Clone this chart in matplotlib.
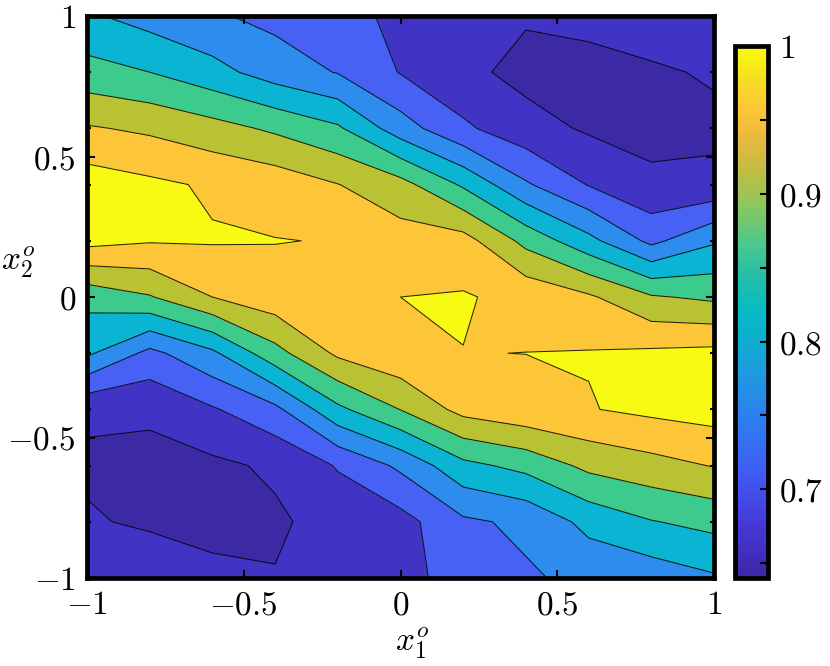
import matplotlib
matplotlib.use("Agg")
import matplotlib.pyplot as plt
import numpy as np
from matplotlib.colors import LinearSegmentedColormap, Normalize
from matplotlib.colorbar import ColorbarBase
from matplotlib.ticker import FixedLocator

plt.rcParams['mathtext.fontset'] = 'cm'
plt.rcParams['font.family'] = 'DejaVu Serif'

# grid of the surface (x1 across, x2 down from +1 to -1)
x1_grid = [-1.0, -0.8, -0.6, -0.4, -0.2, 0.0, 0.2, 0.4, 0.6, 0.8, 1.0]
x2_grid = [1.0, 0.8, 0.6, 0.4, 0.2, 0.0, -0.2, -0.4, -0.6, -0.8, -1.0]

# values, one row per x2 value (top row is x2 = 1)
z_rows = [
    [0.806, 0.784, 0.765, 0.749, 0.735, 0.710, 0.700, 0.684, 0.697, 0.700, 0.695],
    [0.855, 0.840, 0.814, 0.781, 0.758, 0.718, 0.690, 0.668, 0.660, 0.675, 0.684],
    [0.924, 0.913, 0.895, 0.873, 0.846, 0.7785, 0.727, 0.695, 0.675, 0.668, 0.672],
    [0.981, 0.968, 0.955, 0.944, 0.921, 0.8945, 0.834, 0.765, 0.718, 0.688, 0.689],
    [0.973, 0.963, 0.963, 0.961, 0.9586, 0.937, 0.936, 0.868, 0.812, 0.750, 0.795],
    [0.853, 0.877, 0.920, 0.945, 0.950, 0.960, 0.963, 0.950, 0.926, 0.884, 0.872],
    [0.807, 0.749, 0.792, 0.866, 0.9275, 0.951, 0.9595, 0.9602, 0.962, 0.967, 0.9714],
    [0.686, 0.687, 0.716, 0.750, 0.831, 0.881, 0.9335, 0.950, 0.958, 0.969, 0.977],
    [0.674, 0.668, 0.672, 0.686, 0.723, 0.768, 0.829, 0.852, 0.890, 0.906, 0.922],
    [0.684, 0.674, 0.665, 0.674, 0.695, 0.705, 0.753, 0.768, 0.812, 0.838, 0.852],
    [0.690, 0.708, 0.692, 0.682, 0.705, 0.712, 0.730, 0.755, 0.770, 0.777, 0.795],
]

levels = [0.64, 0.68, 0.72, 0.76, 0.80, 0.84, 0.88, 0.92, 0.96, 1.00]
band_colors = ['#3B2AA3', '#4133C3', '#4761F5', '#2D8CEE', '#0AB4D2',
               '#3DCA8D', '#B9C233', '#FCC638', '#F8FA13']

# parula-like gradient for the colorbar
cbar_colors = ['#3E26A8', '#4638D8', '#3F5DF5', '#2D7FF0', '#1F99E0', '#0DAED0',
               '#07B9C4', '#25C0A8', '#4DC88C', '#8CC75D', '#C4BC42', '#EBB93F',
               '#FCC537', '#F5DE24', '#F9FB0E']
cbar_pos = [0.0, 0.1, 0.2, 0.3, 0.38, 0.45, 0.5, 0.57, 0.63, 0.7, 0.77, 0.83,
            0.88, 0.94, 1.0]

xticks = [-1, -0.5, 0, 0.5, 1]
xticklabels = ['$-1$', '$-0.5$', '$0$', '$0.5$', '$1$']
yminor = [-0.8, -0.6, -0.4, -0.2, 0.2, 0.4, 0.6, 0.8]
cticks = [0.7, 0.8, 0.9, 1.0]
cticklabels = ['$0.7$', '$0.8$', '$0.9$', '$1$']
cminor = [0.65, 0.75, 0.85, 0.95]

W, H = 830, 666
fig = plt.figure(figsize=(W / 100, H / 100), dpi=100)
ax = fig.add_axes([87 / W, 1 - 578 / H, (714 - 87) / W, (578 - 16) / H])

X, Y = np.meshgrid(x1_grid, x2_grid)
Z = np.array(z_rows)
ax.contourf(X, Y, Z, levels=levels, colors=band_colors)
ax.contour(X, Y, Z, levels=levels[1:-1], colors='k', linewidths=0.75, alpha=0.85)

ax.set_xlim(-1, 1)
ax.set_ylim(-1, 1)
ax.set_xticks(xticks)
ax.set_xticklabels(xticklabels)
ax.set_yticks(xticks)
ax.set_yticklabels(xticklabels)
ax.yaxis.set_minor_locator(FixedLocator(yminor))
ax.tick_params(which='both', direction='in', top=True, right=True,
               width=1.5, labelsize=24, pad=8)
ax.tick_params(which='major', length=6)
ax.tick_params(which='minor', length=3)
for s in ax.spines.values():
    s.set_linewidth(3.4)

fig.text(412 / W, 1 - 643 / H, r'$x_1^o$', fontsize=24, ha='center', va='center')
fig.text(18 / W, 1 - 262 / H, r'$x_2^o$', fontsize=24, ha='center', va='center')

cax = fig.add_axes([735 / W, 1 - 578 / H, 33 / W, (578 - 46) / H])
cmap = LinearSegmentedColormap.from_list('parula_like', list(zip(cbar_pos, cbar_colors)), N=256)
cb = ColorbarBase(cax, cmap=cmap, norm=Normalize(0.64, 1.0), orientation='vertical')
cb.set_ticks(cticks)
cb.set_ticklabels(cticklabels)
cb.ax.yaxis.set_minor_locator(FixedLocator(cminor))
cb.ax.tick_params(which='both', direction='in', right=True, left=False,
                  length=6, width=1.5, labelsize=24, pad=8)
cb.outline.set_linewidth(3.4)

fig.savefig('out.png', dpi=100)
